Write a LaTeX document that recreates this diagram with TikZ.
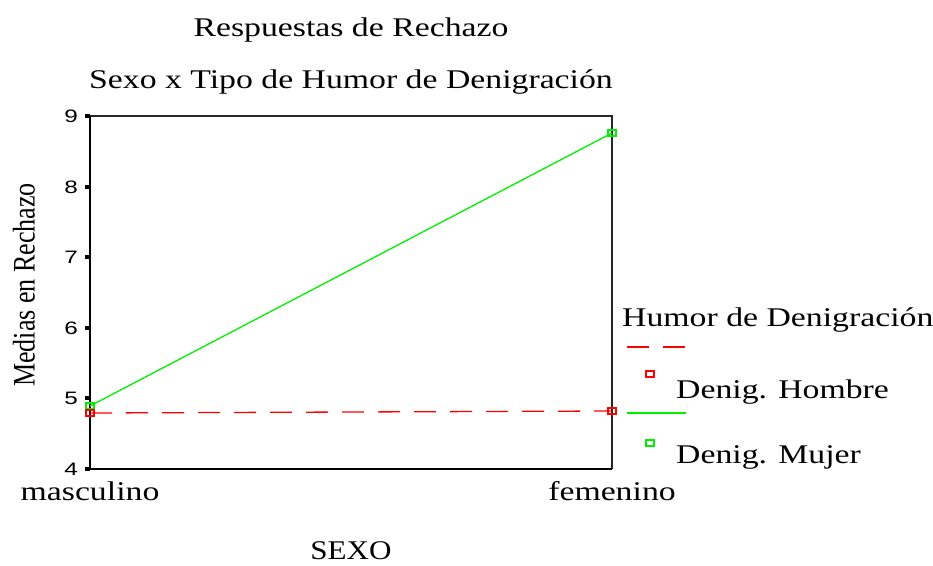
\documentclass[tikz,border=0pt]{standalone}
\usepackage{fontspec}
\setmainfont{Liberation Serif}
\newfontfamily\arialf{Liberation Sans}
\newcommand{\wtext}[1]{\scalebox{1.25}[1]{#1}}
\newcommand{\wtick}[1]{\scalebox{1.35}[1]{#1}}
\definecolor{ggreen}{RGB}{0,240,0}
\definecolor{rred}{RGB}{255,0,0}
\begin{document}
\begin{tikzpicture}[x=1pt,y=-1pt,
  lbl/.style={font=\fontsize{27}{30}\selectfont, inner sep=0, anchor=base},
  lblw/.style={lbl, anchor=base west},
  ticklbl/.style={font=\arialf\fontsize{18}{20}\selectfont, inner sep=0, anchor=base east},
  mk/.style={draw, line width=1.1pt, minimum width=8pt, minimum height=6pt, inner sep=0},
  gline/.style={draw=ggreen, line width=1.3pt},
  rline/.style={draw=rred, line width=1.3pt, dash pattern=on 22pt off 14pt}]
\useasboundingbox (0,0) rectangle (933,565);
% titles
\node[lbl] (t1) at (351,36) {\wtext{Respuestas de Rechazo}};
\node[lbl] (t2) at (351,88) {\wtext{Sexo x Tipo de Humor de Denigración}};
% frame
\draw[line width=1.1pt, black!85] (90,116) -- (612,116) -- (612,469);
\draw[line width=2pt] (90,116) -- (90,469) -- (612,469);
% ticks and labels
\foreach \v/\yy in {9/116,8/186.6,7/257.2,6/327.8,5/398.4,4/469}{
  \fill (85,\yy-2) rectangle (90,\yy+2);
  \node[ticklbl] (tk\v) at (78,\yy+6.5) {\wtick{\v}};
}
% axis titles
\node[inner sep=0, rotate=90, font=\fontsize{28}{30}\selectfont] (ytitle) at (24,285) {\scalebox{0.93}[1.12]{Medias en Rechazo}};
\node[lbl] (cm) at (90,500) {\wtext{masculino}};
\node[lbl] (cf) at (612,500) {\wtext{femenino}};
\node[lbl] (xtitle) at (351,559) {\scalebox{1.15}[1]{SEXO}};
% data
\node[mk, draw=ggreen] (mm) at (90,406) {};
\node[mk, draw=ggreen] (mf) at (612,133) {};
\node[mk, draw=rred] (hm) at (90,413) {};
\node[mk, draw=rred] (hf) at (612,411) {};
\draw[gline] (mm.center) -- (mf.center);
\draw[rline] (hm.center) -- (hf.center);
% legend
\node[lblw] (lt) at (622,326) {\wtext{Humor de Denigración}};
\coordinate (l1a) at (627,347);
\coordinate (l1b) at (686,347);
\draw[rline] (l1a) -- (l1b);
\node[mk, draw=rred] (lm1) at (650,374) {};
\node[lblw] (lh) at (676,398) {\wtext{Denig. Hombre}};
\coordinate (l2a) at (627,413);
\coordinate (l2b) at (686,413);
\draw[gline] (l2a) -- (l2b);
\node[mk, draw=ggreen] (lm2) at (650,443) {};
\node[lblw] (lmj) at (676,463) {\wtext{Denig. Mujer}};
\end{tikzpicture}
\end{document}
